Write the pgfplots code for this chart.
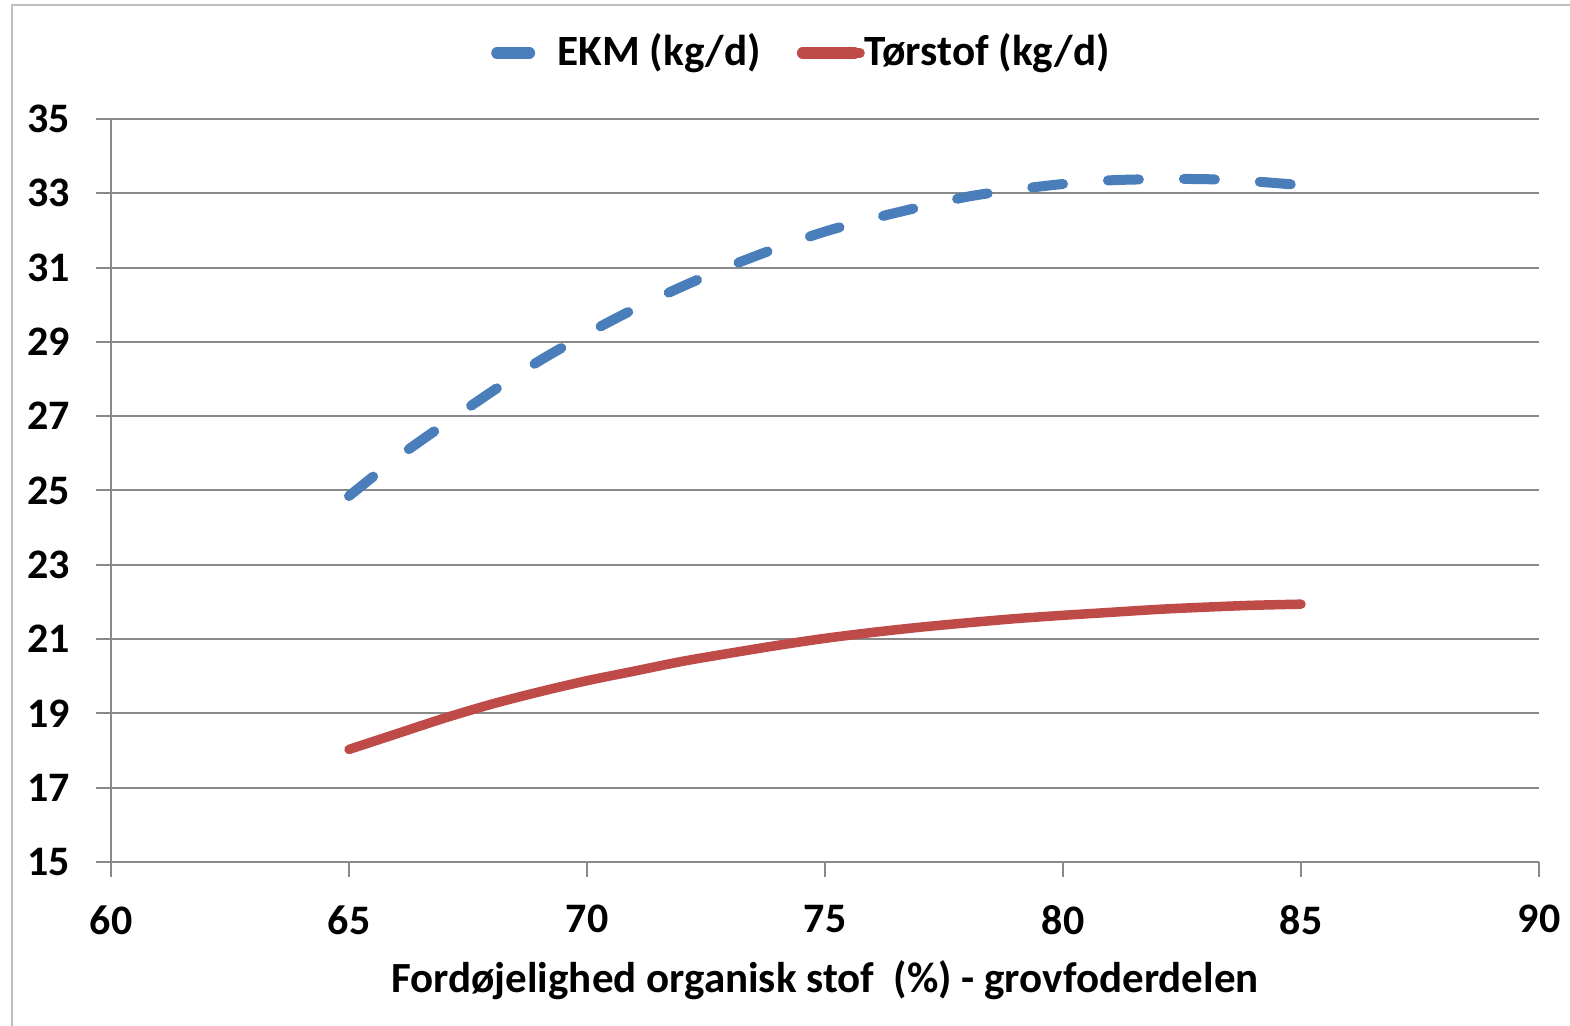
\documentclass[border=0pt]{standalone}
\usepackage{fontspec}
\setmainfont{Carlito}
\usepackage{pgfplots}
\pgfplotsset{compat=1.18}
\definecolor{ekm}{RGB}{74,126,187}
\definecolor{tor}{RGB}{190,75,72}
\definecolor{gridc}{RGB}{137,137,137}
\definecolor{framec}{RGB}{190,190,190}
\begin{document}
\begin{tikzpicture}
\useasboundingbox (-55.5pt,-82pt) rectangle (729.5pt,431pt);
\draw[framec, line width=1pt] (-49.5pt,-82pt) -- (-49.5pt,428.5pt) -- (729.5pt,428.5pt);
\begin{axis}[
  at={(0pt,0pt)}, anchor=south west,
  scale only axis, width=714pt, height=371.5pt,
  xmin=60, xmax=90, ymin=15, ymax=35,
  xtick={60,65,...,90}, ytick={15,17,...,35},
  axis lines=left,
  axis line style={-, gridc, line width=1pt},
  ymajorgrids, grid style={gridc, line width=1pt},
  tick style={gridc, line width=1pt},
  tick align=outside, major tick length=7.5pt,
  /pgf/number format/assume math mode=true,
  every tick label/.append style={font=\fontsize{21}{25}\selectfont\bfseries, text=black},
  yticklabel style={anchor=east, inner sep=0pt, xshift=-12.95pt},
  xticklabel style={anchor=north, inner sep=0pt, yshift=-14pt},
  xlabel={Fordøjelighed organisk stof\ \ (\%) - grovfoderdelen},
  xlabel style={at={(axis description cs:0.5,0)}, anchor=base, inner sep=0pt, yshift=-65.4pt, font=\fontsize{21.5}{25}\selectfont\bfseries},
  clip=false,
  legend columns=2,
  legend style={draw=none, fill=none, inner sep=0pt, at={(0.26597,1.0921)}, anchor=west,
    font=\fontsize{21.6}{26}\selectfont\bfseries,
    nodes={inner sep=0pt, anchor=base},
    /tikz/every odd column/.style={column sep=0pt},
    /tikz/every even column/.style={column sep=18pt}},
]
\addplot[ekm, line width=5pt, line cap=round, smooth, dash pattern=on 15.5pt off 22.5pt,
  legend image code/.code={\draw[ekm, solid, line width=5.75pt, line cap=round] (0pt,6.05pt) -- (16.2pt,6.05pt); \path (0pt,6.05pt) -- (27.8pt,6.05pt);}]
  coordinates {
  (65,24.85) (66,25.87) (67,26.78) (68,27.66) (69,28.49) (70,29.22) (71,29.89)
  (72,30.49) (73,31.04) (74,31.53) (75,31.97) (76,32.32) (77,32.63) (78,32.91)
  (79,33.10) (80,33.25) (81,33.35) (82,33.38) (83,33.38) (84,33.32) (85,33.22)
  };
\addlegendentry{EKM (kg/d)}
\addplot[tor, line width=4.75pt, line cap=round, smooth,
  legend image code/.code={\draw[tor, solid, line width=5.75pt, line cap=round] (0pt,6.05pt) -- (25.8pt,6.05pt); \path (0pt,6.05pt) -- (28.7pt,6.05pt);}]
  coordinates {
  (65,18.03) (66,18.45) (67,18.87) (68,19.25) (69,19.58) (70,19.88) (71,20.14)
  (72,20.40) (73,20.62) (74,20.83) (75,21.02) (76,21.18) (77,21.32) (78,21.44)
  (79,21.55) (80,21.64) (81,21.72) (82,21.80) (83,21.86) (84,21.91) (85,21.94)
  };
\addlegendentry{Tørstof (kg/d)}
\end{axis}
\end{tikzpicture}
\end{document}
